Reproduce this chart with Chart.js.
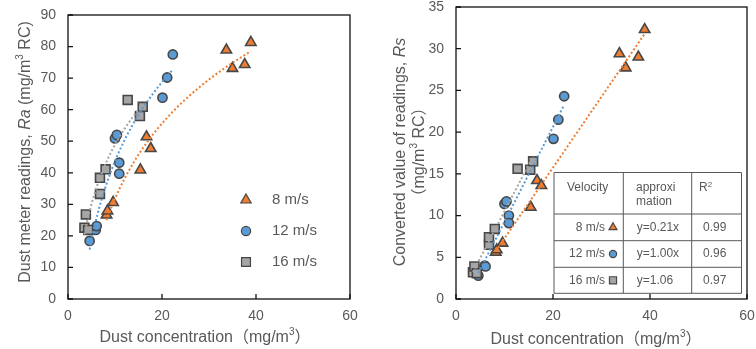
<!DOCTYPE html>
<html lang="en">
<head>
<meta charset="UTF-8">
<title>Dust meter readings vs dust concentration</title>
<script src="https://cdn.jsdelivr.net/npm/chart.js@4.4.1/dist/chart.umd.min.js"></script>
<style>
    body { margin: 0; background: #fff; }
    .wrap { position: relative; width: 756px; height: 349px; overflow: hidden; }
    canvas { position: absolute; top: 0; }
    #left { left: 0; }
    #right { left: 378px; }
</style>
</head>
<body>
<div class="wrap">
    <canvas id="left" width="378" height="349"></canvas>
    <canvas id="right" width="378" height="349"></canvas>
</div>
<script>
const FONT = '"Liberation Sans", Arial, "Noto Sans CJK SC", sans-serif';
const TEXT = '#595959';

// dust concentration (mg/m3), one array per air velocity
const x8 = [8.2, 8.4, 9.6, 15.4, 16.7, 17.6, 33.7, 35.0, 37.6, 38.9];
const x12 = [4.6, 5.9, 6.1, 10.0, 10.4, 10.9, 10.9, 20.1, 21.1, 22.3];
const x16 = [3.5, 3.8, 4.3, 6.8, 6.8, 8.0, 12.7, 15.3, 15.9];

// dust meter readings Ra (left panel)
const ra8 = [26.6, 27.9, 30.6, 40.9, 51.4, 47.7, 78.9, 73.1, 74.3, 81.3];
const ra12 = [18.4, 21.9, 23.1, 50.9, 52.0, 43.2, 39.7, 63.8, 70.2, 77.5];
const ra16 = [22.6, 26.8, 21.9, 33.3, 38.4, 41.1, 63.1, 58.0, 60.9];

// converted readings Rs (right panel)
const rs8 = [5.6, 5.9, 6.7, 11.0, 14.2, 13.6, 29.4, 27.7, 29.0, 32.3];
const rs12 = [2.8, 4.0, 3.9, 11.4, 11.7, 10.0, 9.1, 19.2, 21.5, 24.3];
const rs16 = [3.2, 3.9, 3.1, 6.5, 7.4, 8.4, 15.6, 15.5, 16.5];

const velocities = ['8 m/s', '12 m/s', '16 m/s'];
const approx = ['y=0.21x', 'y=1.00x', 'y=1.06'];
const rSquared = ['0.99', '0.96', '0.97'];

const xTicks = [0, 20, 40, 60];
const raTicks = [0, 10, 20, 30, 40, 50, 60, 70, 80, 90];
const rsTicks = [0, 5, 10, 15, 20, 25, 30, 35];

const marks = [
    { pointStyle: 'triangle', color: '#ED7D31', r: 6 },
    { pointStyle: 'circle', color: '#5B9BD5', r: 4.6 },
    { pointStyle: 'rect', color: '#A5A5A5', r: 6.3 }
];

// least squares, same as an Excel trendline
function linFit(xs, ys) {
    const n = xs.length;
    const mx = xs.reduce((a, b) => a + b) / n;
    const my = ys.reduce((a, b) => a + b) / n;
    let sxy = 0, sxx = 0;
    xs.forEach((x, i) => { sxy += (x - mx) * (ys[i] - my); sxx += (x - mx) ** 2; });
    const a = sxy / sxx;
    return { a, b: my - a * mx };
}

function trend(xs, ys, kind) {
    const isLog = kind === 'log';
    const f = linFit(isLog ? xs.map(Math.log) : xs, ys);
    const lo = Math.min(...xs), hi = Math.max(...xs);
    const steps = isLog ? 40 : 1;
    const pts = [];
    for (let i = 0; i <= steps; i++) {
        const x = lo + (hi - lo) * i / steps;
        pts.push({ x, y: f.a * (isLog ? Math.log(x) : x) + f.b });
    }
    return pts;
}

function buildDatasets(ySeries, kind) {
    const xSeries = [x8, x12, x16];
    const sets = [];
    ySeries.forEach((ys, i) => {
        sets.push({
            label: velocities[i] + ' trend',
            data: trend(xSeries[i], ys, kind),
            showLine: true,
            pointRadius: 0,
            borderColor: marks[i].color,
            borderWidth: 2,
            borderDash: [2, 2.2],
            fill: false,
            order: i
        });
    });
    ySeries.forEach((ys, i) => {
        sets.push({
            label: velocities[i],
            data: xSeries[i].map((x, j) => ({ x, y: ys[j] })),
            showLine: false,
            pointStyle: marks[i].pointStyle,
            pointRadius: marks[i].r,
            backgroundColor: marks[i].color,
            borderColor: '#474747',
            borderWidth: 1.6,
            order: 5 - i
        });
    });
    return sets;
}

// draws text runs: {t, it (italic), sup}
function drawRuns(ctx, runs, cx, cy, size, rotate) {
    ctx.save();
    ctx.translate(cx, cy);
    if (rotate) ctx.rotate(-Math.PI / 2);
    ctx.fillStyle = TEXT;
    ctx.textBaseline = 'middle';
    ctx.textAlign = 'left';
    const fontOf = r => (r.it ? 'italic ' : '') + (r.sup ? Math.round(size * 0.65) : size) + 'px ' + FONT;
    let total = 0;
    runs.forEach(r => { ctx.font = fontOf(r); total += ctx.measureText(r.t).width; });
    let x = -total / 2;
    runs.forEach(r => {
        ctx.font = fontOf(r);
        ctx.fillText(r.t, x, r.sup ? -size * 0.35 : 0);
        x += ctx.measureText(r.t).width;
    });
    ctx.restore();
}

function drawMark(ctx, i, x, y, r) {
    ctx.save();
    ctx.fillStyle = marks[i].color;
    ctx.strokeStyle = '#474747';
    ctx.lineWidth = 1.2;
    Chart.helpers.drawPoint(ctx, { pointStyle: marks[i].pointStyle, radius: r, rotation: 0, borderWidth: 1.2 }, x, y);
    ctx.restore();
}

// box, inside tick marks and tick labels (labels drawn here so they add no layout padding)
const frame = {
    id: 'frame',
    afterDraw(chart, args, opts) {
        const ctx = chart.ctx;
        const a = chart.chartArea;
        const sx = chart.scales.x, sy = chart.scales.y;
        ctx.save();
        ctx.strokeStyle = '#111';
        ctx.lineWidth = 1.3;
        ctx.strokeRect(a.left, a.top, a.right - a.left, a.bottom - a.top);
        ctx.beginPath();
        sy.ticks.forEach(t => {
            const y = sy.getPixelForValue(t.value);
            ctx.moveTo(a.left, y); ctx.lineTo(a.left + 5, y);
        });
        sx.ticks.forEach(t => {
            const x = sx.getPixelForValue(t.value);
            ctx.moveTo(x, a.bottom); ctx.lineTo(x, a.bottom - 5);
        });
        ctx.stroke();
        ctx.fillStyle = TEXT;
        ctx.font = '14px ' + FONT;
        ctx.textBaseline = 'middle';
        ctx.textAlign = 'right';
        sy.ticks.forEach(t => ctx.fillText(String(t.value), a.left - 12, sy.getPixelForValue(t.value)));
        ctx.textAlign = 'center';
        sx.ticks.forEach(t => ctx.fillText(String(t.value), sx.getPixelForValue(t.value), a.bottom + 17));
        ctx.restore();
        opts.extra(ctx, chart);
    }
};

function makeOptions(yTicks, yWidth, padRight, padTop, extra) {
    return {
        responsive: false,
        animation: false,
        events: [],
        layout: { autoPadding: false, padding: { left: 0, right: padRight, top: padTop, bottom: 0 } },
        plugins: { legend: { display: false }, tooltip: { enabled: false }, frame: { extra } },
        scales: {
            x: {
                type: 'linear', min: xTicks[0], max: xTicks[xTicks.length - 1],
                afterBuildTicks: s => { s.ticks = xTicks.map(v => ({ value: v })); },
                afterFit: s => { s.height = 50; },
                grid: { display: false, drawTicks: false },
                border: { display: false },
                ticks: { display: false }
            },
            y: {
                type: 'linear', min: yTicks[0], max: yTicks[yTicks.length - 1],
                afterBuildTicks: s => { s.ticks = yTicks.map(v => ({ value: v })); },
                afterFit: s => { s.width = yWidth; },
                grid: { display: false, drawTicks: false },
                border: { display: false },
                ticks: { display: false }
            }
        }
    };
}

new Chart(document.getElementById('left'), {
    type: 'scatter',
    data: { datasets: buildDatasets([ra8, ra12, ra16], 'log') },
    plugins: [frame],
    options: makeOptions(raTicks, 68, 28, 15, (ctx, chart) => {
        drawRuns(ctx, [{ t: 'Dust meter readings, ' }, { t: 'Ra', it: true }, { t: ' (mg/m' }, { t: '3', sup: true }, { t: ' RC)' }], 26, 152, 16, true);
        drawRuns(ctx, [{ t: 'Dust concentration（mg/m' }, { t: '3', sup: true }, { t: '）' }], 205, 338, 16, false);
        // legend inside the plot
        velocities.forEach((v, i) => {
            const y = 200 + i * 31;
            drawMark(ctx, i, 246, y, marks[i].r);
            ctx.save();
            ctx.fillStyle = TEXT;
            ctx.font = '15px ' + FONT;
            ctx.textBaseline = 'middle';
            ctx.fillText(v, 272, y);
            ctx.restore();
        });
    })
});

new Chart(document.getElementById('right'), {
    type: 'scatter',
    data: { datasets: buildDatasets([rs8, rs12, rs16], 'linear') },
    plugins: [frame],
    options: makeOptions(rsTicks, 78, 9, 7, (ctx, chart) => {
        drawRuns(ctx, [{ t: 'Converted value of readings, ' }, { t: 'Rs', it: true }], 23, 152, 16, true);
        drawRuns(ctx, [{ t: '（mg/m' }, { t: '3', sup: true }, { t: ' RC）' }], 42, 152, 16, true);
        drawRuns(ctx, [{ t: 'Dust concentration（mg/m' }, { t: '3', sup: true }, { t: '）' }], 218, 340, 16, false);

        // fit table
        const L = 176, R = 363.5, cols = [245.3, 313.7];
        const rows = [172.5, 214, 240.7, 267.3, 293.3];
        ctx.save();
        ctx.fillStyle = '#fff';
        ctx.fillRect(L, rows[0], R - L, rows[4] - rows[0]);
        ctx.strokeStyle = '#595959';
        ctx.lineWidth = 1;
        ctx.beginPath();
        rows.forEach(y => { ctx.moveTo(L, y); ctx.lineTo(R, y); });
        [L, ...cols, R].forEach(x => { ctx.moveTo(x, rows[0]); ctx.lineTo(x, rows[4]); });
        ctx.stroke();
        ctx.fillStyle = TEXT;
        ctx.font = '12px ' + FONT;
        ctx.textBaseline = 'middle';
        ctx.fillText('Velocity', 189, 188);
        ctx.fillText('approxi', 258, 188);
        ctx.fillText('mation', 258, 202);
        ctx.fillText('R', 321, 188);
        ctx.font = '8px ' + FONT;
        ctx.fillText('2', 321 + 8.7, 185);
        ctx.restore();
        velocities.forEach((v, i) => {
            const y = (rows[i + 1] + rows[i + 2]) / 2;
            ctx.save();
            ctx.fillStyle = TEXT;
            ctx.font = '12px ' + FONT;
            ctx.textBaseline = 'middle';
            ctx.textAlign = 'right';
            ctx.fillText(v, 227, y);
            ctx.textAlign = 'left';
            ctx.fillText(approx[i], 258.7, y);
            ctx.fillText(rSquared[i], 325, y);
            ctx.restore();
            drawMark(ctx, i, 235, y, [4.6, 3.6, 5][i]);
        });
    })
});
</script>
</body>
</html>
